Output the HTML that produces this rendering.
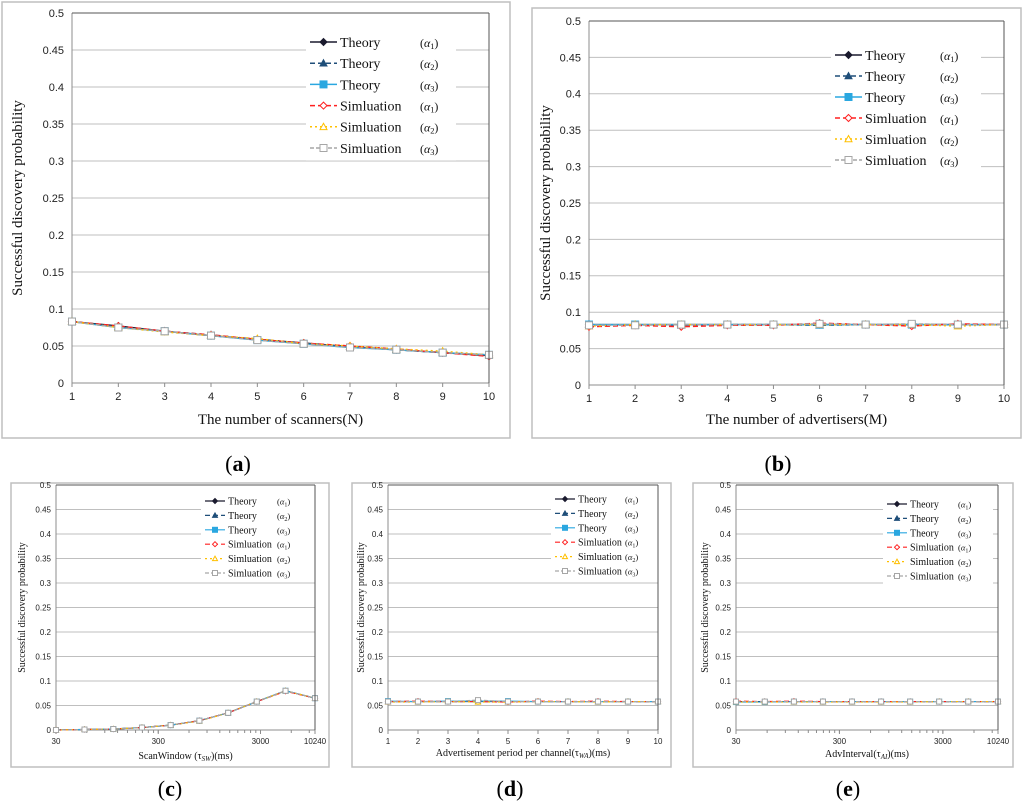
<!DOCTYPE html>
<html><head><meta charset="utf-8"><style>
body{margin:0;background:#fff;width:1024px;height:803px;overflow:hidden;font-family:"Liberation Sans",sans-serif}
svg{position:absolute;left:0;top:0}
</style></head><body>
<svg id="fig" width="1024" height="803"></svg>
<script>
const yTicks=[0,0.05,0.1,0.15,0.2,0.25,0.3,0.35,0.4,0.45,0.5];
const yTickLabels=["0","0.05","0.1","0.15","0.2","0.25","0.3","0.35","0.4","0.45","0.5"];
const linX=[1,2,3,4,5,6,7,8,9,10];
const logX=[30,57,109,208,397,758,1447,2762,5274,10240];
const logTicks=[30,300,3000,10240];
const legendNames=["Theory","Theory","Theory","Simluation","Simluation","Simluation"];
const legendAlpha=["1","2","3","1","2","3"];
// panel a
const aT1=[0.083,0.077,0.070,0.064,0.059,0.054,0.049,0.045,0.041,0.037];
const aT2=[0.083,0.076,0.070,0.065,0.059,0.053,0.049,0.045,0.041,0.038];
const aT3=[0.083,0.075,0.070,0.064,0.058,0.053,0.048,0.045,0.041,0.038];
const aS1=[0.083,0.077,0.070,0.065,0.059,0.054,0.050,0.046,0.041,0.036];
const aS2=[0.083,0.075,0.069,0.064,0.060,0.053,0.050,0.046,0.043,0.038];
const aS3=[0.083,0.075,0.070,0.064,0.058,0.053,0.048,0.045,0.041,0.038];
// panel b
const bT1=[0.083,0.083,0.083,0.083,0.083,0.083,0.083,0.083,0.083,0.083];
const bT2=[0.083,0.082,0.082,0.083,0.083,0.082,0.083,0.083,0.083,0.083];
const bT3=[0.083,0.083,0.083,0.083,0.083,0.083,0.083,0.083,0.083,0.083];
const bS1=[0.080,0.082,0.080,0.082,0.082,0.085,0.083,0.081,0.084,0.083];
const bS2=[0.081,0.083,0.083,0.083,0.083,0.083,0.083,0.083,0.081,0.083];
const bS3=[0.082,0.082,0.083,0.083,0.083,0.084,0.083,0.084,0.083,0.083];
// panel c
const cT1=[0.000,0.001,0.002,0.005,0.010,0.019,0.035,0.058,0.080,0.065];
const cT2=[0.000,0.001,0.002,0.005,0.010,0.019,0.035,0.058,0.080,0.065];
const cT3=[0.000,0.001,0.002,0.005,0.010,0.019,0.035,0.058,0.080,0.065];
const cS1=[0.000,0.001,0.002,0.005,0.010,0.019,0.035,0.058,0.079,0.065];
const cS2=[0.000,0.001,0.002,0.005,0.010,0.018,0.035,0.058,0.080,0.065];
const cS3=[0.000,0.001,0.002,0.005,0.010,0.019,0.035,0.058,0.080,0.065];
// panel d
const dT1=[0.058,0.058,0.058,0.058,0.058,0.058,0.058,0.058,0.058,0.058];
const dT2=[0.058,0.058,0.058,0.058,0.058,0.058,0.058,0.058,0.058,0.058];
const dT3=[0.059,0.058,0.059,0.059,0.059,0.058,0.058,0.058,0.058,0.058];
const dS1=[0.058,0.059,0.058,0.058,0.057,0.059,0.058,0.059,0.058,0.058];
const dS2=[0.057,0.057,0.058,0.057,0.057,0.058,0.058,0.057,0.058,0.058];
const dS3=[0.058,0.058,0.058,0.061,0.058,0.058,0.058,0.058,0.058,0.058];
// panel e
const eT1=[0.058,0.058,0.058,0.058,0.058,0.058,0.058,0.058,0.058,0.058];
const eT2=[0.058,0.058,0.058,0.058,0.058,0.058,0.058,0.058,0.058,0.058];
const eT3=[0.057,0.057,0.058,0.058,0.058,0.058,0.058,0.058,0.058,0.058];
const eS1=[0.059,0.058,0.059,0.058,0.058,0.058,0.058,0.058,0.058,0.058];
const eS2=[0.057,0.057,0.057,0.057,0.057,0.057,0.057,0.058,0.058,0.058];
const eS3=[0.058,0.058,0.058,0.058,0.058,0.058,0.058,0.058,0.058,0.058];

const NS="http://www.w3.org/2000/svg";
const svg=document.getElementById('fig');
function el(tag,attrs,parent){const e=document.createElementNS(NS,tag);for(const k in attrs)e.setAttribute(k,attrs[k]);(parent||svg).appendChild(e);return e;}
const styles=[
 {c:"#1a1a2e",dash:"",m:"diamond",fill:true},
 {c:"#1f4e79",dash:"5,3",m:"tri",fill:true},
 {c:"#2aa7e0",dash:"",m:"square",fill:true},
 {c:"#ff2020",dash:"5,3",m:"diamond",fill:false},
 {c:"#ffc000",dash:"2,3",m:"tri",fill:false},
 {c:"#a6a6a6",dash:"4,2",m:"square",fill:false}];
function marker(g,x,y,s,r){
  const f=s.fill?s.c:"#fff";let e;
  if(s.m==="diamond")e=el('polygon',{points:`${x},${y-r} ${x+r},${y} ${x},${y+r} ${x-r},${y}`,fill:f,stroke:s.c,'stroke-width':1},g);
  else if(s.m==="tri")e=el('polygon',{points:`${x},${y-r} ${x+r},${y+r*0.8} ${x-r},${y+r*0.8}`,fill:f,stroke:s.c,'stroke-width':1},g);
  else e=el('rect',{x:x-r,y:y-r,width:2*r,height:2*r,fill:f,stroke:s.c,'stroke-width':1},g);
  return e;
}
function panel(p){
  const g=el('g',{});
  
  
  const box=el('rect',{x:p.box[0],y:p.box[1],width:p.box[2],height:p.box[3],fill:"#fff",stroke:"#bfbfbf",'stroke-width':1.5},g);
  
  
  const L=p.L,R=p.R,T=p.T,B=p.B;
  const ys=v=>B-(v/0.5)*(B-T);
  let xs;
  if(p.log){const l0=Math.log10(30),l1=Math.log10(10240);xs=v=>L+(Math.log10(v)-l0)/(l1-l0)*(R-L);}
  else xs=v=>L+(v-1)/9*(R-L);
  yTicks.forEach((t,i)=>{
    const gl=el('line',{x1:L,x2:R,y1:ys(t),y2:ys(t),stroke:i===0?"#8c8c8c":"#bfbfbf",'stroke-width':1},g);
    
    
    const tl=el('text',{x:L-p.tickGap,y:ys(t)+p.fs*0.35,'font-size':p.fs,'text-anchor':'end',fill:"#222"},g);
    tl.textContent=yTickLabels[i];
    
    
  });
  el('line',{x1:L,x2:L,y1:T,y2:B,stroke:"#8c8c8c"},g);
  const xt=p.log?logTicks:linX;
  if(p.log){
    for(let d=30;d<=10240;d*=10)for(let k=1;k<10;k++){const v=d*k;if(v>10240)break;el('line',{x1:xs(v),x2:xs(v),y1:B,y2:B+3,stroke:"#8c8c8c"},g);}
  }
  xt.forEach(t=>{
    el('line',{x1:xs(t),x2:xs(t),y1:B,y2:B+4,stroke:"#8c8c8c"},g);
    const tl=el('text',{x:xs(t),y:B+p.fs+6,'font-size':p.fs,'text-anchor':'middle',fill:"#222"},g);
    tl.textContent=String(t);
    
    
  });
  const xv=p.log?logX:linX;
  p.series.forEach((vals,si)=>{
    const s=styles[si];
    const pts=vals.map((v,i)=>xs(xv[i])+","+ys(v)).join(" ");
    const pl=el('polyline',{points:pts,fill:"none",stroke:s.c,'stroke-width':p.lw,'stroke-dasharray':s.dash},g);
    
    
    vals.forEach((v,i)=>{
      const m=marker(g,xs(xv[i]),ys(v),s,p.mr);
      
      
    });
  });
  // legend
  const lg=el('g',{},g);
  
  
  el('rect',{x:p.leg.x-4,y:p.leg.y-p.leg.dy/2-2,width:p.leg.w,height:p.leg.dy*6+4,fill:"#fff"},lg);
  for(let i=0;i<6;i++){
    const s=styles[i],y=p.leg.y+i*p.leg.dy,x=p.leg.x;
    el('line',{x1:x,x2:x+p.leg.sw,y1:y,y2:y,stroke:s.c,'stroke-width':p.lw,'stroke-dasharray':s.dash},lg);
    marker(lg,x+p.leg.sw/2,y,s,p.mr);
    const t=el('text',{x:x+p.leg.sw+3,y:y+p.leg.fs*0.35,'font-size':p.leg.fs,'font-family':'"Liberation Serif",serif',fill:"#111"},lg);
    t.textContent=legendNames[i];
    
    
    const a=el('text',{x:p.leg.ax,y:y+p.leg.fs*0.35,'font-size':p.leg.fs*0.85,'font-family':'"Liberation Serif",serif',fill:"#111"},lg);
    a.innerHTML='(<tspan font-style="italic">α</tspan><tspan font-size="'+(p.leg.fs*0.6)+'" dy="2">'+legendAlpha[i]+'</tspan><tspan dy="-2">)</tspan>';
  }
  el('line',{x1:R,x2:R,y1:T,y2:B,stroke:"#555"},g);
  el('line',{x1:L,x2:R,y1:T,y2:T,stroke:"#555"},g);
  const yt=el('text',{transform:`translate(${p.ytx},${(T+B)/2}) rotate(-90)`,'font-size':p.tfs,'text-anchor':'middle','font-family':'"Liberation Serif",serif',fill:"#111"},g);
  yt.textContent="Successful discovery probability";
  
  
  const xtl=el('text',{x:(L+R)/2,y:p.xty,'font-size':p.tfs,'text-anchor':'middle','font-family':'"Liberation Serif",serif',fill:"#111"},g);
  xtl.innerHTML=p.xtitle;
  
  
  const cap=el('text',{x:p.cap[0],y:p.cap[1],'font-size':22,'text-anchor':'middle','font-family':'"Liberation Serif",serif',fill:"#000"},g);
  cap.innerHTML='(<tspan font-weight="bold">'+p.id+'</tspan>)';
  
  
}
panel({id:'a',box:[2,2,508,436],L:72,R:489,T:13,B:383,fs:11,tickGap:8,lw:1.5,mr:3.5,tfs:15,ytx:22,xty:424,
  xtitle:"The number of scanners(N)",cap:[238,471],series:[aT1,aT2,aT3,aS1,aS2,aS3],
  leg:{x:310,y:42,dy:21.2,sw:27,fs:14,ax:420,w:150}});
panel({id:'b',box:[532,8,489,430],L:589,R:1004,T:21,B:385,fs:11,tickGap:8,lw:1.5,mr:3.5,tfs:15,ytx:550,xty:424,
  xtitle:"The number of advertisers(M)",cap:[778,471],series:[bT1,bT2,bT3,bS1,bS2,bS3],
  leg:{x:835,y:55,dy:21,sw:27,fs:14,ax:940,w:150}});
panel({id:'c',log:true,box:[11,483,318,284],L:56,R:315,T:485,B:730,fs:8,tickGap:5,lw:1.2,mr:2.5,tfs:10,ytx:25,xty:759,
  xtitle:'ScanWindow (τ<tspan font-style="italic" font-size="7" dy="2">SW</tspan><tspan dy="-2">)(ms)</tspan>',cap:[170,796],series:[cT1,cT2,cT3,cS1,cS2,cS3],
  leg:{x:205,y:501,dy:14.4,sw:20,fs:10,ax:277,w:115}});
panel({id:'d',box:[352,483,319,284],L:388,R:658,T:485,B:730,fs:8,tickGap:5,lw:1.2,mr:2.5,tfs:10,ytx:364,xty:756,
  xtitle:'Advertisement period per channel(τ<tspan font-style="italic" font-size="7" dy="2">WA</tspan><tspan dy="-2">)(ms)</tspan>',cap:[510,796],series:[dT1,dT2,dT3,dS1,dS2,dS3],
  leg:{x:555,y:499,dy:14.4,sw:20,fs:10,ax:625,w:110}});
panel({id:'e',log:true,box:[693,483,320,284],L:736,R:998,T:485,B:730,fs:8,tickGap:5,lw:1.2,mr:2.5,tfs:10,ytx:708,xty:757,
  xtitle:'AdvInterval(τ<tspan font-style="italic" font-size="7" dy="2">AI</tspan><tspan dy="-2">)(ms)</tspan>',cap:[848,796],series:[eT1,eT2,eT3,eS1,eS2,eS3],
  leg:{x:887,y:504,dy:14.4,sw:20,fs:10,ax:958,w:110}});
</script>
</body></html>
